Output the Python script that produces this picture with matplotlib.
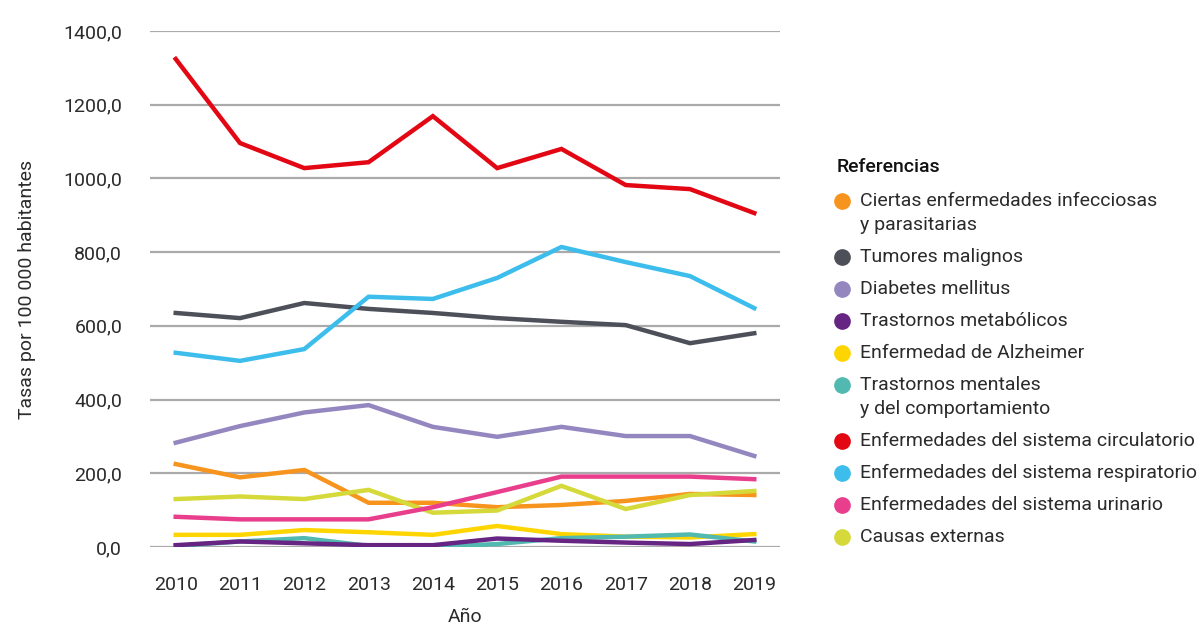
import matplotlib.pyplot as plt
from matplotlib.lines import Line2D
from matplotlib.ticker import FuncFormatter

plt.rcParams['font.family'] = ['Roboto', 'DejaVu Sans']

years = [2010, 2011, 2012, 2013, 2014, 2015, 2016, 2017, 2018, 2019]

infecciosas = [225, 189, 209, 120, 120, 108, 114, 125, 144, 141]
tumores = [635, 621, 662, 646, 635, 621, 611, 602, 553, 580]
diabetes = [283, 328, 365, 385, 326, 299, 326, 301, 301, 247]
metabolicos = [5, 15, 10, 5, 5, 23, 17, 12, 8, 19]
alzheimer = [33, 33, 46, 40, 33, 57, 35, 28, 26, 35]
mentales = [3, 15, 24, 3, 0, 8, 24, 28, 34, 15]
circulatorio = [1324, 1096, 1028, 1044, 1169, 1028, 1080, 982, 971, 906]
respiratorio = [527, 505, 537, 679, 673, 730, 814, 773, 735, 648]
urinario = [82, 75, 75, 75, 108, 149, 191, 191, 191, 184]
externas = [130, 137, 130, 155, 93, 99, 166, 103, 141, 152]

series = [
    ("Ciertas enfermedades infecciosas\ny parasitarias", infecciosas, "#F7941D"),
    ("Tumores malignos", tumores, "#4D5059"),
    ("Diabetes mellitus", diabetes, "#9487C0"),
    ("Trastornos metabólicos", metabolicos, "#662483"),
    ("Enfermedad de Alzheimer", alzheimer, "#FFD500"),
    ("Trastornos mentales\ny del comportamiento", mentales, "#52B9B0"),
    ("Enfermedades del sistema circulatorio", circulatorio, "#E30613"),
    ("Enfermedades del sistema respiratorio", respiratorio, "#3DBDEC"),
    ("Enfermedades del sistema urinario", urinario, "#E83E8C"),
    ("Causas externas", externas, "#D5D93A"),
]
# draw order: lower lines on top like the original
draw_order = [2, 1, 7, 6, 0, 9, 8, 4, 5, 3]

FS = 14
TXT = '#2B2B2B'

fig = plt.figure(figsize=(12.04, 6.25), dpi=100)
ax = fig.add_axes([150 / 1204, 1 - 547 / 625, 630 / 1204, 516 / 625])

for i in draw_order:
    label, vals, color = series[i]
    ax.plot(years, vals, color=color, lw=3.2, solid_joinstyle='miter', zorder=3)

ax.set_xlim(2009.6, 2019.4)
ax.set_ylim(0, 1400)
ax.set_yticks(range(0, 1401, 200))
ax.set_xticks(years)
ax.yaxis.set_major_formatter(FuncFormatter(lambda v, p: f"{v:.1f}".replace('.', ',')))
ax.grid(axis='y', color='#AAAAAA', lw=1.6, zorder=1)
ax.set_axisbelow(True)
for s in ax.spines.values():
    s.set_visible(False)
ax.tick_params(length=0, labelsize=FS, labelcolor=TXT)
ax.tick_params(axis='y', pad=20)
ax.tick_params(axis='x', pad=21)

ax.set_xlabel("Año", fontsize=FS, color=TXT, labelpad=10)
ax.set_ylabel("Tasas por 100 000 habitantes", fontsize=FS, color=TXT, labelpad=20)

# legend drawn by hand
W, H = 1204, 625
fig.text(837 / W, 1 - 167 / H, "Referencias", fontsize=FS, fontweight='medium',
         color='#111111', va='center', ha='left')
y = 201
for label, vals, color in series:
    fig.add_artist(Line2D([842 / W], [1 - y / H], marker='o', markersize=11,
                          color=color, transform=fig.transFigure))
    lines = label.split("\n")
    for k, line in enumerate(lines):
        fig.text(860 / W, 1 - (y + 24 * k) / H, line, fontsize=FS,
                 color=TXT, va='center', ha='left')
    y += 24 * (len(lines) - 1) + 32

fig.savefig("out.png", dpi=100)
